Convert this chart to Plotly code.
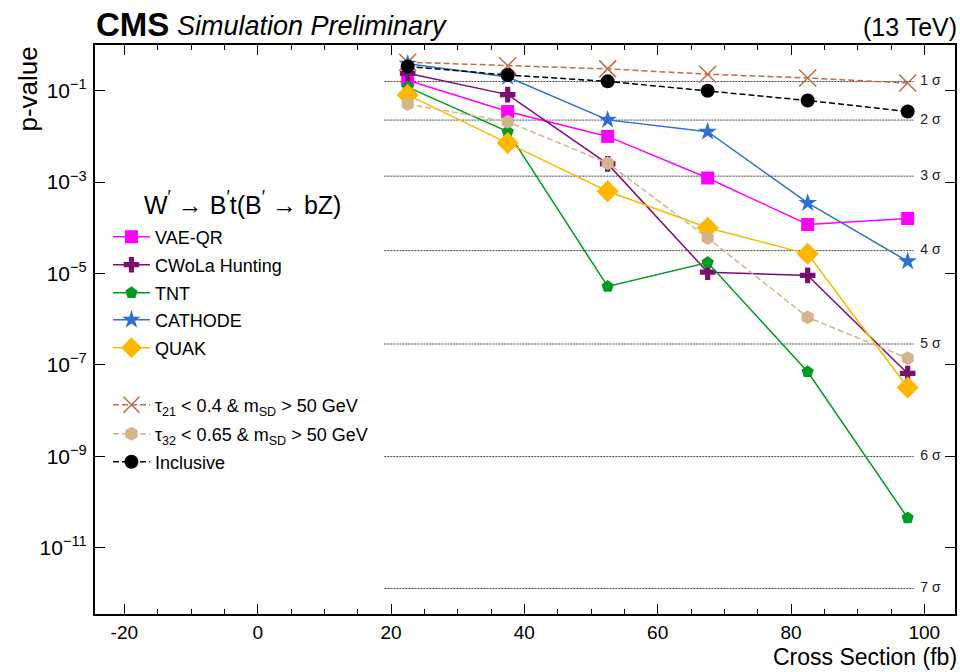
import plotly.graph_objects as go

# ---- data ----
xsec = [22.5, 37.5, 52.5, 67.5, 82.5, 97.5]

vae_qr = [0.17, 0.035, 0.010, 1.23e-3, 1.18e-4, 1.6e-4]
cwola = [0.24, 0.082, 2.5e-3, 1.07e-5, 9.1e-6, 6.5e-8]
tnt = [0.12, 0.0127, 5.2e-6, 1.74e-5, 7.1e-8, 4.5e-11]
cathode = [0.39, 0.20, 0.023, 0.0127, 3.5e-4, 1.85e-5]
quak = [0.081, 0.0072, 6.3e-4, 1.0e-4, 2.7e-5, 3.2e-8]
tau21 = [0.42, 0.35, 0.30, 0.23, 0.19, 0.147]
tau32 = [0.051, 0.021, 2.6e-3, 6.0e-5, 1.1e-6, 1.4e-7]
inclusive = [0.34, 0.22, 0.16, 0.10, 0.061, 0.035]

sigma_labels = ["1 σ", "2 σ", "3 σ", "4 σ", "5 σ", "6 σ", "7 σ"]
sigma_pvals = [0.1587, 0.02275, 1.35e-3, 3.167e-5, 2.867e-7, 9.866e-10, 1.280e-12]
sigma_x = [19.0, 98.4]
sigma_label_x = 99.4

ytick_vals = [1e-1, 1e-3, 1e-5, 1e-7, 1e-9, 1e-11]
ytick_text = ["10<sup>−1</sup>", "10<sup>−3</sup>", "10<sup>−5</sup>",
              "10<sup>−7</sup>", "10<sup>−9</sup>", "10<sup>−11</sup>"]
xtick_vals = [-20, 0, 20, 40, 60, 80, 100]
xtick_text = ["-20", "0", "20", "40", "60", "80", "100"]

FONT = "Liberation Sans, Arial, Helvetica, sans-serif"

# layout geometry (pixels)
W, H = 960, 672
ML, MR, MT, MB = 95, 3, 45, 58
PH = H - MT - MB
legend_rows_px = [237, 265, 293, 320, 348, 405, 434, 462]


def py(px):
    return 1 - (px - MT) / PH


fig = go.Figure()

# sigma reference lines
for lab, p in zip(sigma_labels, sigma_pvals):
    fig.add_trace(go.Scatter(x=sigma_x, y=[p, p], mode="lines",
                             line=dict(color="#444444", width=1, dash="2px,1px"),
                             showlegend=False, hoverinfo="skip"))
fig.add_trace(go.Scatter(x=[sigma_label_x] * len(sigma_pvals), y=sigma_pvals,
                         mode="text", text=sigma_labels, textposition="middle right",
                         textfont=dict(size=14, color="#222222", family=FONT),
                         showlegend=False, hoverinfo="skip"))

series = [
    ("VAE-QR", vae_qr, "#ff00ff", "square", 13, "solid"),
    ("CWoLa Hunting", cwola, "#7a0f6e", "cross", 13, "solid"),
    ("TNT", tnt, "#009b22", "pentagon", 13, "solid"),
    ("CATHODE", cathode, "#2f6fd0", "star", 14, "solid"),
    ("QUAK", quak, "#ffb700", "diamond", 17, "solid"),
    ("τ<sub>21</sub> < 0.4 & m<sub>SD</sub> > 50 GeV", tau21, "#c46a45", "x-thin", 17, "6px,3px"),
    ("τ<sub>32</sub> < 0.65 & m<sub>SD</sub> > 50 GeV", tau32, "#d4b48a", "hexagon", 14, "6px,3px"),
    ("Inclusive", inclusive, "#000000", "circle", 14, "6px,3px"),
]

legend_layouts = {}
for i, (name, vals, col, sym, size, dash) in enumerate(series):
    marker = dict(symbol=sym, size=size, color=col)
    if sym == "x-thin":
        marker["line"] = dict(color=col, width=1.5)
    else:
        marker["line"] = dict(width=0)
    lname = "legend" if i == 0 else f"legend{i + 1}"
    fig.add_trace(go.Scatter(x=xsec, y=vals, mode="lines+markers", name=name,
                             line=dict(color=col, width=1.5, dash=dash),
                             marker=marker, legend=lname))
    legend_layouts[lname] = dict(
        x=(108 - ML) / (W - ML - MR), y=py(legend_rows_px[i]),
        xanchor="left", yanchor="middle",
        font=dict(size=18, family=FONT, color="black"),
        bgcolor="rgba(0,0,0,0)", itemwidth=37)

axis_common = dict(showline=True, linecolor="black", linewidth=2, mirror="ticks",
                   ticks="inside", tickcolor="black", tickwidth=1, showgrid=False,
                   zeroline=False)

fig.update_xaxes(range=[-24.4, 104.6], tickvals=xtick_vals, ticktext=xtick_text, ticklen=10,
                 tickfont=dict(size=19, family=FONT, color="black"),
                 ticklabelstandoff=0,
                 minor=dict(dtick=5, ticks="inside", ticklen=5, tickcolor="black", showgrid=False),
                 **axis_common)
fig.update_yaxes(type="log", range=[-12.45, 0], tickvals=ytick_vals, ticktext=ytick_text,
                 ticklen=10, tickfont=dict(size=21, family=FONT, color="black"),
                 ticklabelstandoff=2,
                 **axis_common)

fig.update_layout(
    width=W, height=H,
    margin=dict(l=ML, r=MR, t=MT, b=MB),
    paper_bgcolor="white", plot_bgcolor="white",
    font=dict(family=FONT, color="black"),
    annotations=[
        dict(text="<b>CMS</b>", x=0, y=1.0, xref="paper", yref="paper",
             xanchor="left", yanchor="bottom", yshift=0, xshift=-1, showarrow=False,
             font=dict(size=33, family=FONT, color="black")),
        dict(text="<i>Simulation Preliminary</i>", x=0.093, y=1.0, xref="paper", yref="paper",
             xanchor="left", yanchor="bottom", yshift=2, showarrow=False,
             font=dict(size=27, family=FONT, color="black")),
        dict(text="(13 TeV)", x=1.0, y=1.0, xref="paper", yref="paper",
             xanchor="right", yanchor="bottom", yshift=2, xshift=4, showarrow=False,
             font=dict(size=25, family=FONT, color="black")),
        dict(text="p-value", x=-0.079, y=1.0, xref="paper", yref="paper",
             xanchor="center", yanchor="top", textangle=-90, showarrow=False,
             font=dict(size=26, family=FONT, color="black")),
        dict(text="Cross Section (fb)", x=1.0, y=-(MB - 1) / PH, xref="paper", yref="paper",
             xanchor="right", yanchor="bottom", xshift=3, showarrow=False, borderpad=0,
             font=dict(size=23, family=FONT, color="black")),
        dict(text="W<sup>′</sup> → B<sup>′</sup>t(B<sup>′</sup> → bZ)", x=(243 - ML) / (W - ML - MR),
             y=py(203), xref="paper", yref="paper", xanchor="center", yanchor="middle",
             showarrow=False, font=dict(size=25, family=FONT, color="black")),
    ],
    **legend_layouts,
)

fig.write_html("out.html")
